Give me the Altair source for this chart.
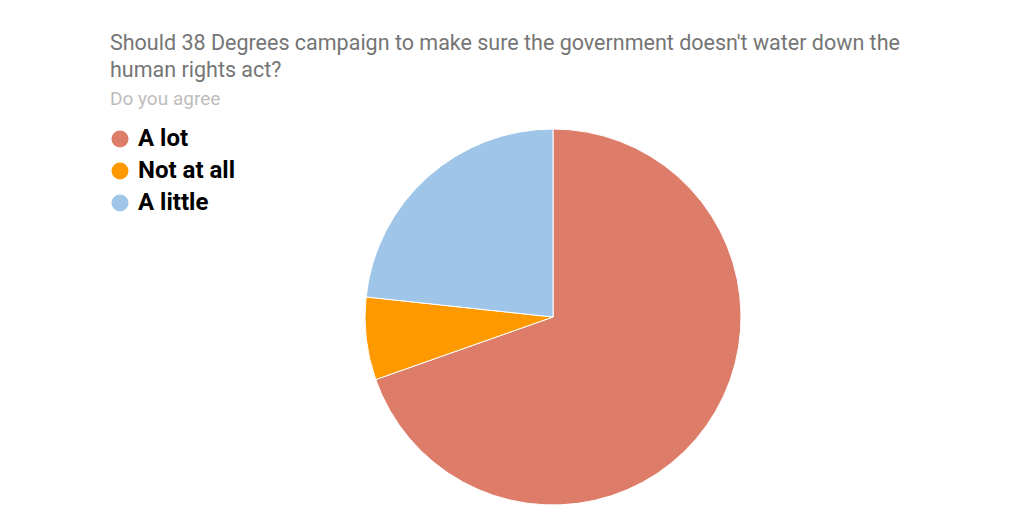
import altair as alt
import pandas as pd

categories = ["A lot", "Not at all", "A little"]
values = [69.6, 7.1, 23.3]
colors = ["#DD7C68", "#FF9900", "#9FC5E8"]

df = pd.DataFrame({"answer": categories, "share": values, "idx": list(range(len(categories)))})

title_lines = [
    "Should 38 Degrees campaign to make sure the government doesn't water down the",
    "human rights act?",
]

chart = (
    alt.Chart(df)
    .mark_arc(stroke="white", strokeWidth=1, outerRadius=188)
    .encode(
        theta=alt.Theta("share:Q", stack=True),
        order=alt.Order("idx:Q"),
        color=alt.Color(
            "answer:N",
            scale=alt.Scale(domain=categories, range=colors),
            legend=alt.Legend(
                title=None,
                orient="none",
                legendX=100,
                legendY=-1,
                symbolType="circle",
                symbolSize=289,
                symbolStrokeWidth=0,
                symbolOpacity=1,
                labelFont="Roboto",
                labelFontSize=24,
                labelFontWeight="bold",
                labelColor="#000000",
                labelOffset=6,
                rowPadding=8,
            ),
        ),
        x=alt.value(545),
        y=alt.value(189),
    )
    .properties(
        width=1008,
        height=396,
        padding={"top": 120, "left": 0, "right": 0, "bottom": 0},
        autosize=alt.AutoSizeParams(type="none"),
        title=alt.TitleParams(
            text=title_lines,
            subtitle="Do you agree",
            anchor="start",
            frame="group",
            dx=102,
            offset=18,
            font="Roboto",
            fontSize=21.5,
            fontWeight="normal",
            color="#757575",
            lineHeight=27,
            subtitleFont="Roboto",
            subtitleFontSize=19,
            subtitleColor="#BDBDBD",
            subtitlePadding=9,
        ),
    )
    .configure_view(stroke=None)
)

chart.save("out.html", embed_options={"renderer": "svg", "actions": False})
